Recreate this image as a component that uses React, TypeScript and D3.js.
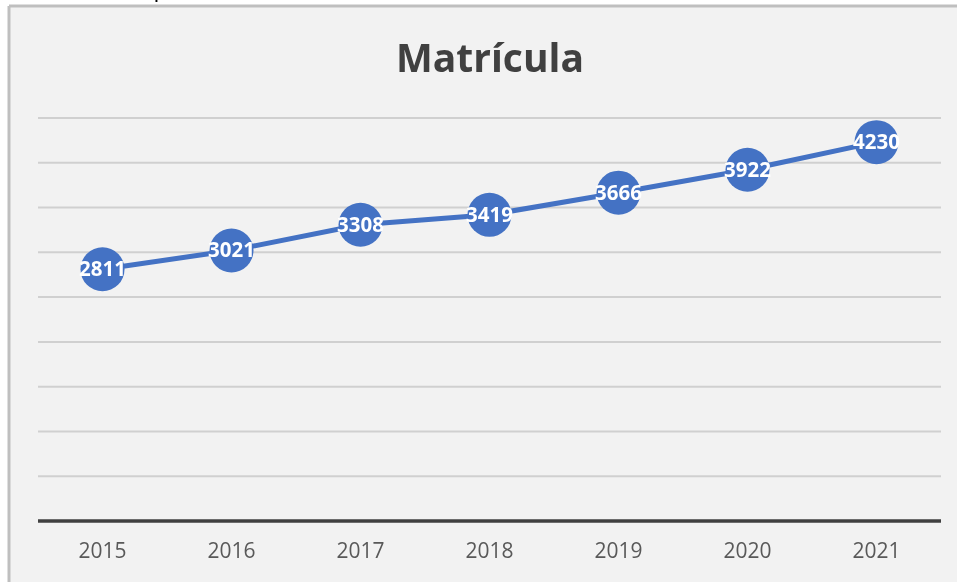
import React, { useEffect, useRef } from "react"
import * as d3 from "d3"

const years = ["2015", "2016", "2017", "2018", "2019", "2020", "2021"]
const matricula = [2811, 3021, 3308, 3419, 3666, 3922, 4230]
const yTicks = [0, 500, 1000, 1500, 2000, 2500, 3000, 3500, 4000, 4500]

const W = 957
const H = 582

const App = () => {
  const ref = useRef<SVGSVGElement>(null)

  useEffect(() => {
    const svg = d3.select(ref.current)
    svg.selectAll("*").remove()

    // chart area background + border (top and left visible)
    svg.append("rect").attr("x", 0).attr("y", 0).attr("width", W).attr("height", H).attr("fill", "#ffffff")
    svg.append("rect").attr("x", 9).attr("y", 6).attr("width", W).attr("height", H).attr("fill", "#f2f2f2")
    svg.append("line").attr("x1", 9).attr("x2", W).attr("y1", 6).attr("y2", 6)
      .attr("stroke", "#bfbfbf").attr("stroke-width", 3)
    svg.append("line").attr("x1", 9).attr("x2", 9).attr("y1", 6).attr("y2", H)
      .attr("stroke", "#bfbfbf").attr("stroke-width", 3)

    // cut-off text above the chart (only its descender shows in the original)
    svg.append("text").attr("x", 154).attr("y", -3).attr("font-size", 22)
      .attr("font-family", "Liberation Sans, sans-serif").attr("fill", "#000").text("p")

    const x = d3.scaleBand().domain(years).range([38, 941])
    const y = d3.scaleLinear().domain([0, 4500]).range([521, 118])
    const cx = (d: string) => (x(d) as number) + x.bandwidth() / 2

    // gridlines
    svg.append("g").selectAll("line").data(yTicks.filter(t => t > 0)).enter().append("line")
      .attr("x1", 38).attr("x2", 941)
      .attr("y1", d => y(d)).attr("y2", d => y(d))
      .attr("stroke", "#d0d0d0").attr("stroke-width", 2)

    // baseline
    svg.append("line").attr("x1", 38).attr("x2", 941).attr("y1", y(0)).attr("y2", y(0))
      .attr("stroke", "#404040").attr("stroke-width", 3.5)

    // x labels
    svg.append("g").selectAll("text").data(years).enter().append("text")
      .attr("x", d => cx(d)).attr("y", 558)
      .attr("text-anchor", "middle").attr("font-size", 21)
      .attr("font-family", "Open Sans, sans-serif").attr("fill", "#595959")
      .text(d => d)

    // title
    svg.append("text").attr("x", 490).attr("y", 72).attr("text-anchor", "middle")
      .attr("font-size", 39).attr("font-weight", "bold")
      .attr("font-family", "Open Sans, sans-serif").attr("fill", "#404040")
      .text("Matrícula")

    const pts = years.map((d, i) => ({ year: d, value: matricula[i] }))

    const line = d3.line<{ year: string; value: number }>()
      .x(d => cx(d.year)).y(d => y(d.value))
    svg.append("path").datum(pts).attr("d", line)
      .attr("fill", "none").attr("stroke", "#4472c4").attr("stroke-width", 5)
      .attr("stroke-linejoin", "round")

    svg.append("g").selectAll("circle").data(pts).enter().append("circle")
      .attr("cx", d => cx(d.year)).attr("cy", d => y(d.value)).attr("r", 22)
      .attr("fill", "#4472c4")

    svg.append("g").selectAll("text").data(pts).enter().append("text")
      .attr("x", d => cx(d.year)).attr("y", d => y(d.value) + 7)
      .attr("text-anchor", "middle").attr("font-size", 20.5).attr("font-weight", "bold")
      .attr("font-family", "Open Sans, sans-serif").attr("fill", "#ffffff")
      .text(d => d.value)
  }, [])

  return (
    <div style={{ position: "fixed", left: 0, top: 0 }}>
      <svg ref={ref} width={W} height={H} style={{ display: "block" }} />
    </div>
  )
}

export default App
